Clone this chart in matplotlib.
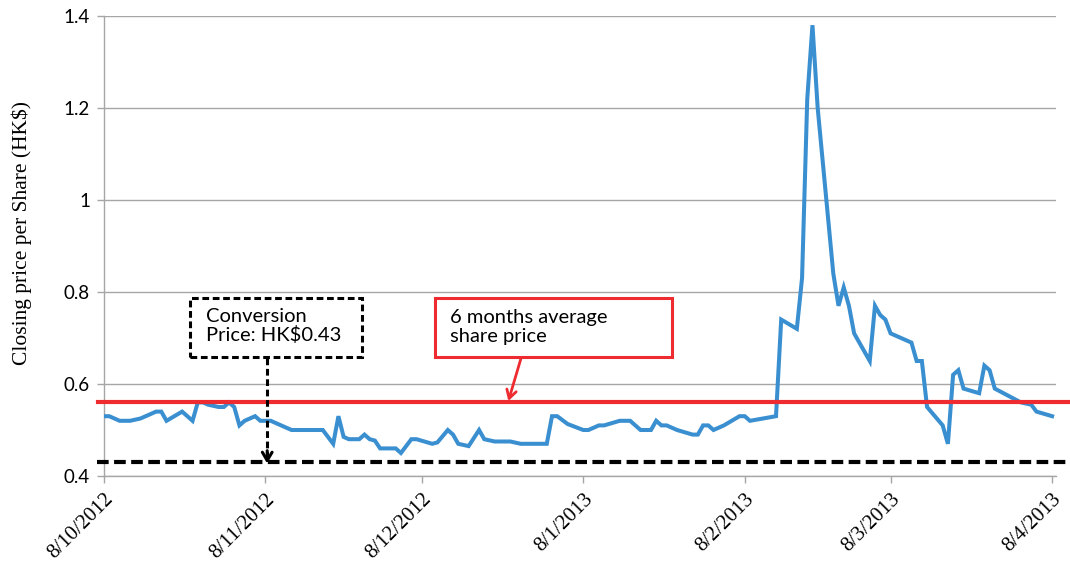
import matplotlib
matplotlib.use("Agg")
import matplotlib.pyplot as plt
import matplotlib.dates as mdates
import matplotlib.patches as mpatches
import matplotlib.transforms as mtransforms
import pandas as pd

# closing prices (HK$)
dates = [
    "2012-10-08", "2012-10-09", "2012-10-11", "2012-10-13", "2012-10-15", "2012-10-16",
    "2012-10-18", "2012-10-19", "2012-10-20", "2012-10-23", "2012-10-25", "2012-10-26",
    "2012-10-27", "2012-10-28", "2012-10-30", "2012-10-31", "2012-11-01", "2012-11-02",
    "2012-11-03", "2012-11-04", "2012-11-06", "2012-11-07", "2012-11-09", "2012-11-10",
    "2012-11-13", "2012-11-19", "2012-11-21", "2012-11-22", "2012-11-23", "2012-11-24",
    "2012-11-26", "2012-11-27", "2012-11-28", "2012-11-29", "2012-11-30", "2012-12-03",
    "2012-12-04", "2012-12-06", "2012-12-07", "2012-12-10", "2012-12-11", "2012-12-13",
    "2012-12-14", "2012-12-15", "2012-12-17", "2012-12-19", "2012-12-20", "2012-12-22",
    "2012-12-25", "2012-12-27", "2013-01-01", "2013-01-02", "2013-01-03", "2013-01-05",
    "2013-01-08", "2013-01-09", "2013-01-11", "2013-01-12", "2013-01-15", "2013-01-17",
    "2013-01-19", "2013-01-21", "2013-01-22", "2013-01-23", "2013-01-24", "2013-01-26",
    "2013-01-29", "2013-01-30", "2013-01-31", "2013-02-01", "2013-02-02", "2013-02-04",
    "2013-02-07", "2013-02-08", "2013-02-09", "2013-02-14", "2013-02-15", "2013-02-18",
    "2013-02-19", "2013-02-20", "2013-02-21", "2013-02-22", "2013-02-25", "2013-02-26",
    "2013-02-27", "2013-02-28", "2013-03-01", "2013-03-04", "2013-03-05", "2013-03-06",
    "2013-03-07", "2013-03-08", "2013-03-12", "2013-03-13", "2013-03-14", "2013-03-15",
    "2013-03-18", "2013-03-19", "2013-03-20", "2013-03-21", "2013-03-22", "2013-03-25",
    "2013-03-26", "2013-03-27", "2013-03-28", "2013-04-02", "2013-04-04", "2013-04-05",
    "2013-04-08",
]
prices = [
    0.53, 0.53, 0.52, 0.52, 0.525, 0.53,
    0.54, 0.54, 0.52, 0.54, 0.52, 0.56,
    0.56, 0.555, 0.55, 0.55, 0.56, 0.55,
    0.51, 0.52, 0.53, 0.52, 0.52, 0.515,
    0.50, 0.50, 0.47, 0.53, 0.485, 0.48,
    0.48, 0.49, 0.48, 0.477, 0.46, 0.46,
    0.45, 0.48, 0.48, 0.47, 0.473, 0.50,
    0.49, 0.47, 0.465, 0.50, 0.48, 0.475,
    0.475, 0.47, 0.47, 0.53, 0.53, 0.513,
    0.50, 0.50, 0.51, 0.51, 0.52, 0.52,
    0.50, 0.50, 0.52, 0.51, 0.51, 0.50,
    0.49, 0.49, 0.51, 0.51, 0.50, 0.51,
    0.53, 0.53, 0.52, 0.53, 0.74, 0.72,
    0.83, 1.22, 1.38, 1.20, 0.84, 0.77,
    0.81, 0.77, 0.71, 0.65, 0.77, 0.75,
    0.74, 0.71, 0.69, 0.65, 0.65, 0.55,
    0.51, 0.47, 0.62, 0.63, 0.59, 0.58,
    0.64, 0.63, 0.59, 0.56, 0.555, 0.54,
    0.53,
]
tick_dates = ["2012-10-08", "2012-11-08", "2012-12-08", "2013-01-08",
              "2013-02-08", "2013-03-08", "2013-04-08"]
y_ticks = [0.4, 0.6, 0.8, 1.0, 1.2, 1.4]
y_tick_labels = ["0.4", "0.6", "0.8", "1", "1.2", "1.4"]

avg_price = 0.56          # 6 months average share price
conversion_price = 0.43   # conversion price

BLUE = "#3a8fd0"
RED = "#ee2b30"
GRID = "#a6a6a6"
SANS = "Lato"
SERIF = "Liberation Serif"

x = pd.to_datetime(dates)
ticks = pd.to_datetime(tick_dates)

fig = plt.figure(figsize=(10.7, 5.66), dpi=100)
ax = fig.add_axes([104 / 1070, 1 - 476 / 566, 952 / 1070, 460 / 566])

ax.plot(x, prices, color=BLUE, lw=2.9, solid_joinstyle="miter", zorder=3)

# reference lines run a bit past the plot area, like drawn shapes
blend = mtransforms.blended_transform_factory(ax.transAxes, ax.transData)
ax.plot([-0.006, 1.015], [avg_price, avg_price], color=RED, lw=3.0,
        transform=blend, clip_on=False, zorder=4)
ax.plot([-0.007, 1.015], [conversion_price, conversion_price], color="black",
        lw=3.0, dashes=(2.8, 1.3), transform=blend, clip_on=False, zorder=4)

ax.set_xlim(pd.Timestamp("2012-10-08"), pd.Timestamp("2013-04-08 18:00"))
ax.set_ylim(0.4, 1.4)
ax.set_xticks(ticks)
ax.set_xticklabels([f"{d.day}/{d.month}/{d.year}" for d in ticks],
                   rotation=45, ha="right", va="top", rotation_mode="anchor",
                   fontfamily=SERIF, fontsize=15)
ax.set_yticks(y_ticks)
ax.set_yticklabels(y_tick_labels, fontfamily=SANS, fontsize=13.5)

ax.grid(axis="y", color=GRID, lw=1)
ax.set_axisbelow(True)
for side in ("top", "right"):
    ax.spines[side].set_visible(False)
for side in ("left", "bottom"):
    ax.spines[side].set_color(GRID)
    ax.spines[side].set_linewidth(1)
ax.tick_params(axis="both", colors=GRID, length=5, width=1)
ax.tick_params(axis="x", pad=5, labelcolor="black")
ax.tick_params(axis="y", pad=5, labelcolor="black")

fig.text(22 / 1070, 1 - 233 / 566, "Closing price per Share (HK$)",
         rotation=90, ha="center", va="center", fontfamily=SERIF, fontsize=15.5)

# annotation boxes
def d(s):
    return mdates.date2num(pd.Timestamp(s))

conv_box = mpatches.Rectangle((d("2012-10-24 12:00"), 0.659), 33, 0.128,
                              fill=False, ec="black", lw=2.2, ls=(0, (2.2, 1.2)),
                              zorder=5)
ax.add_patch(conv_box)
ax.text(d("2012-10-27 12:00"), 0.726, "Conversion\nPrice: HK$0.43",
        fontfamily=SANS, fontsize=14.5, va="center", ha="left",
        linespacing=1.1, zorder=6)

avg_box = mpatches.Rectangle((d("2012-12-10 12:00"), 0.659), 45.5, 0.127,
                             fill=False, ec=RED, lw=2.2, zorder=5)
ax.add_patch(avg_box)
ax.text(d("2012-12-13 10:00"), 0.724, "6 months average\nshare price",
        fontfamily=SANS, fontsize=14.5, va="center", ha="left",
        linespacing=1.1, zorder=6)

# arrows from boxes to the lines
arrow_x = d("2012-11-08 08:00")
ax.plot([arrow_x, arrow_x], [0.657, 0.445], color="black", lw=2.2,
        dashes=(2.2, 1.2), zorder=5)
ax.annotate("", xy=(arrow_x, 0.427), xytext=(arrow_x, 0.455),
            arrowprops=dict(arrowstyle="->,head_length=0.6,head_width=0.35",
                            color="black", lw=2.2, shrinkA=0, shrinkB=0),
            zorder=6)
ax.annotate("", xy=(d("2012-12-24 15:00"), 0.563), xytext=(d("2012-12-27"), 0.654),
            arrowprops=dict(arrowstyle="->,head_length=0.6,head_width=0.35",
                            color=RED, lw=2.0, shrinkA=0, shrinkB=0),
            zorder=6)

fig.savefig("out.png", dpi=100)
